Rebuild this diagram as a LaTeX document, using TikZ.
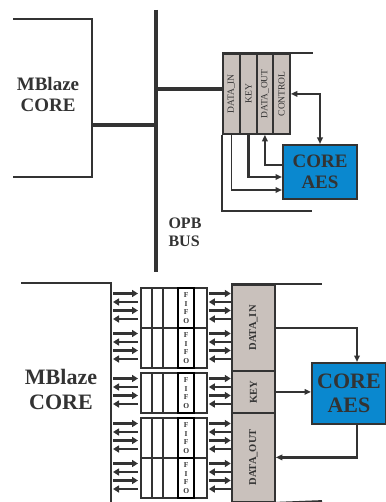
\documentclass[tikz,border=0pt]{standalone}
\usepackage{fontspec}
\setmainfont{Liberation Serif}
\usetikzlibrary{arrows.meta, calc}
\definecolor{ink}{HTML}{333333}
\definecolor{regfill}{HTML}{C9C1BC}
\definecolor{aesblue}{HTML}{0A88CF}

\begin{document}
\begin{tikzpicture}[
    x=1pt, y=-1pt,
    >={Triangle[length=6.5pt,width=5.5pt]},
    wire/.style={draw=ink, line width=1.8pt},
    bus/.style={draw=ink, line width=4pt},
    conn/.style={draw=ink, line width=1.6pt},
    regcell/.style={
      draw=ink,
      line width=1.8pt,
      fill=regfill,
      inner sep=0pt,
      anchor=north west,
      text=ink
    },
    aesbox/.style={
      draw=ink,
      line width=2pt,
      fill=aesblue,
      inner sep=0pt,
      anchor=north west,
      align=center,
      text=ink
    },
    title/.style={align=center, text=ink},
    fifobox/.style={
      draw=ink,
      line width=1.8pt,
      fill=white,
      inner sep=0pt,
      anchor=north west,
      minimum width=66,
      minimum height=40
    },
    fifotag/.style={
      draw=black,
      line width=2.4pt,
      fill=white,
      inner sep=0pt,
      anchor=north west,
      minimum width=16,
      minimum height=40,
      align=center,
      text=ink,
      font=\fontsize{7.5}{8.5}\selectfont\bfseries
    },
    pin/.style={draw=ink, line width=2.6pt, -{Triangle[length=6pt,width=7pt]}}
  ]
    \useasboundingbox (0,0) rectangle (385,502);

    % upper view: registers on the OPB bus
    \node[title, font=\fontsize{19}{21}\selectfont\bfseries] (mbTop) at (48,95) {MBlaze\\CORE};
    \coordinate (mbTL)   at (13,19);
    \coordinate (mbBR)   at (92,177);
    \coordinate (mbBL)   at (13,177);
    \coordinate (mbPort) at (92,125);
    \coordinate (busTop) at (156,10);
    \coordinate (busBot) at (156,272);
    \draw[wire] (mbTL) -| (mbBR) -- (mbBL);
    \draw[bus] (busTop) -- (busBot);
    \draw[bus] (mbPort) -- (mbPort -| busTop);
    \node[title, align=left, anchor=west, font=\fontsize{16}{18}\selectfont\bfseries] (opb) at (165,232) {OPB\\BUS};

    \node[regcell, minimum width=17, minimum height=80, font=\fontsize{9.5}{9.5}\selectfont] (tDin)  at (222,53) {\rotatebox{90}{DATA\_IN}};
    \node[regcell, minimum width=17, minimum height=80, font=\fontsize{9.5}{9.5}\selectfont] (tKey)  at (239,53) {\rotatebox{90}{KEY}};
    \node[regcell, minimum width=16, minimum height=80, font=\fontsize{9.5}{9.5}\selectfont] (tDout) at (256,53) {\rotatebox{90}{DATA\_OUT}};
    \node[regcell, minimum width=17, minimum height=80, font=\fontsize{9.5}{9.5}\selectfont] (tCtrl) at (272,53) {\rotatebox{90}{CONTROL}};
    \coordinate (tPort)   at ([yshift=5pt]tDin.west);
    \coordinate (tTopEnd) at (313,53);
    \coordinate (tLow)    at (312,211);
    \draw[bus] (tPort -| busTop) -- (tPort);
    \draw[wire, line width=1.4pt] (tDin.north west) -- (tTopEnd);
    \draw[conn, line width=1.4pt] (tDin.south west) |- (tLow);

    \node[aesbox, minimum width=74, minimum height=54, font=\fontsize{19}{21}\selectfont\bfseries] (tAes) at (282,144) {CORE\\AES};
    \draw[conn, ->] (tDin.south) |- ([yshift=10pt]tAes.south west);
    \draw[conn, line width=2.4pt, ->] (tKey.south) |- ([yshift=23pt]tAes.south west);
    \draw[conn, line width=2.2pt, ->] ([yshift=35pt]tAes.south west) -| (tDout.south);
    \draw[conn, <->] (tCtrl.east) -| (tAes.north);

    % lower view: FIFOs between the core and the registers
    \node[title, font=\fontsize{22}{25}\selectfont\bfseries] (mbBot) at (61,389) {MBlaze\\CORE};
    \coordinate (bTL) at (21,283);
    \coordinate (bBR) at (111,502);
    \draw[wire] (bTL) -| (bBR);

    \node[regcell, minimum width=43, minimum height=86, font=\fontsize{10.5}{10.5}\selectfont\bfseries] (bDin)  at (231,284) {\rotatebox{90}{DATA\_IN}};
    \node[regcell, minimum width=43, minimum height=42, font=\fontsize{10.5}{10.5}\selectfont\bfseries] (bKey)  at (231,370) {\rotatebox{90}{KEY}};
    \node[regcell, minimum width=43, minimum height=89, font=\fontsize{10.5}{10.5}\selectfont\bfseries] (bDout) at (231,412) {\rotatebox{90}{DATA\_OUT}};
    \coordinate (bTopEnd) at (322,284);
    \coordinate (bBotEnd) at (322,501);
    \draw[wire, line width=2.4pt] (bDin.north west) -- (bTopEnd);
    \draw[wire] (bDout.south east) -- (bBotEnd);

    \node[aesbox, minimum width=74, minimum height=61, font=\fontsize{22}{24}\selectfont\bfseries] (bAes) at (311,362) {CORE\\AES};
    \draw[conn, line width=2.2pt, ->] (bDin.east) -| ([xshift=8pt]bAes.north);
    \draw[conn, line width=2.2pt, ->] (bKey.east) -- (bKey.east -| bAes.west);
    \draw[conn, line width=2.2pt, ->] ([xshift=8pt]bAes.south) |- (bDout.east);

    \foreach \fy [count=\i] in {287,327,372,417,457} {
      \node[fifobox] (f\i) at (140,\fy) {};
      \foreach \cx in {12,23,53}
        \draw[ink, line width=1.6pt] ($(f\i.north west)+(\cx,0)$) -- ($(f\i.south west)+(\cx,0)$);
      \node[fifotag] (ft\i) at ($(f\i.north west)+(37,0)$) {F\\I\\F\\O};
      \foreach \off in {6.5,23.5} {
        \draw[pin] ($(f\i.north west)+(-27,\off)$) -- ($(f\i.north west)+(-2,\off)$);
        \draw[pin] ($(f\i.north east)+(1,\off)$) -- ($(f\i.north east)+(23,\off)$);
      }
      \foreach \off in {15,32} {
        \draw[pin] ($(f\i.north west)+(-2,\off)$) -- ($(f\i.north west)+(-27,\off)$);
        \draw[pin] ($(f\i.north east)+(23,\off)$) -- ($(f\i.north east)+(1,\off)$);
      }
    }
\end{tikzpicture}
\end{document}
